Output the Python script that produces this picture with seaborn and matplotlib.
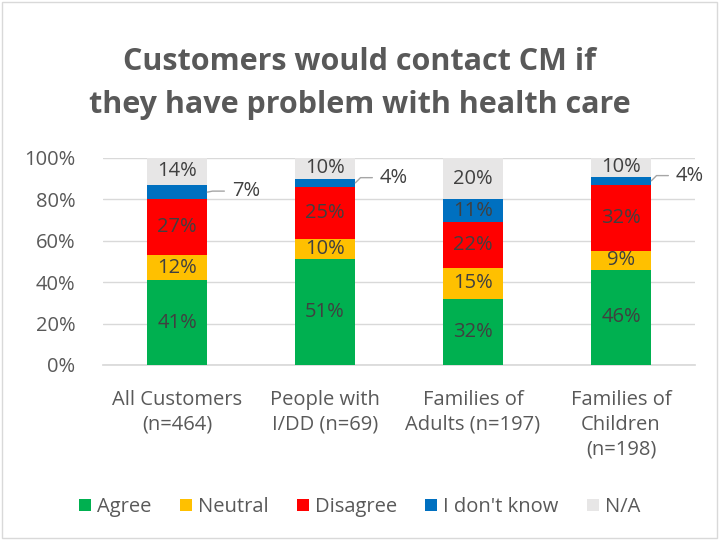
import matplotlib
matplotlib.use("Agg")
import matplotlib.pyplot as plt
import seaborn as sns
import pandas as pd
import numpy as np
from matplotlib.patches import Rectangle, Patch

categories = ["All Customers\n(n=464)", "People with\nI/DD (n=69)", "Families of\nAdults (n=197)", "Families of\nChildren\n(n=198)"]
series = ["Agree", "Neutral", "Disagree", "I don't know", "N/A"]
agree = [41, 51, 32, 46]
neutral = [12, 10, 15, 9]
disagree = [27, 25, 22, 32]
dont_know = [7, 4, 11, 4]
na = [14, 10, 20, 10]
colors = ["#00B050", "#FFC000", "#FF0000", "#0070C0", "#E7E6E6"]

values = [agree, neutral, disagree, dont_know, na]

sns.set_theme(style="white")
plt.rcParams['font.family'] = ['Open Sans', 'DejaVu Sans']

fig = plt.figure(figsize=(7.19, 5.40), dpi=100)
ax = fig.add_axes([103/719, 1-365/540, (695-103)/719, (365-158)/540])

cum = np.zeros(len(categories))
cums = []
for v in values:
    cum = cum + np.array(v)
    cums.append(cum.copy())

# draw from top down
for i in range(len(series) - 1, -1, -1):
    d = pd.DataFrame({"cat": categories, "val": np.minimum(cums[i], 100)})
    sns.barplot(data=d, x="cat", y="val", color=colors[i], width=0.405, ax=ax,
                saturation=1, zorder=3, linewidth=0)

ax.set_ylim(0, 100)
ax.set_xlim(-0.5, 3.5)
ax.set_yticks(range(0, 101, 20))
ax.set_yticklabels([f"{t}%" for t in range(0, 101, 20)])
ax.yaxis.grid(True, color="#D9D9D9", linewidth=1, zorder=0)
ax.set_axisbelow(True)
for s in ["top", "right", "left"]:
    ax.spines[s].set_visible(False)
ax.spines["bottom"].set_color("#D9D9D9")
ax.set_xlabel("")
ax.set_ylabel("")
ax.tick_params(axis="both", length=0, labelsize=14.5, colors="#595959")
ax.tick_params(axis="y", pad=20)
ax.tick_params(axis="x", pad=18)
for lbl in ax.get_xticklabels():
    lbl.set_linespacing(1.3)
    lbl.set_va("top")

label_color = "#404040"
fs = 14.5
for j in range(len(categories)):
    bottom = 0
    for i, v in enumerate(values):
        val = v[j]
        top = min(bottom + val, 100)
        mid = (bottom + top) / 2
        if i == 3 and val < 8:
            dy = 0.5 if j == 0 else 2.5
            ax.plot([j + 0.205, j + 0.24, j + 0.32], [mid, mid + dy, mid + dy],
                    color="#A6A6A6", linewidth=1, zorder=4, clip_on=False)
            ax.text(j + 0.37, mid + dy, f"{val}%", ha="left", va="center",
                    fontsize=fs, color=label_color, zorder=5)
        else:
            ax.text(j, mid, f"{val}%", ha="center", va="center", fontsize=fs,
                    color=label_color, zorder=5)
        bottom = top

fig.text(0.5, 1-62/540, "Customers would contact CM if", ha="center", va="center",
         fontsize=22, fontweight="bold", color="#595959")
fig.text(0.5, 1-105/540, "they have problem with health care", ha="center", va="center",
         fontsize=22, fontweight="bold", color="#595959")

handles = [Patch(facecolor=c, edgecolor="none") for c in colors]
fig.legend(handles, series, loc="center", bbox_to_anchor=(0.5, 1-507/540), ncol=5,
           frameon=False, fontsize=14.5, labelcolor="#595959", handlelength=0.6,
           handleheight=0.6, handletextpad=0.3, columnspacing=1.4)

fig.patches.append(Rectangle((0.003, 0.003), 0.994, 0.994, transform=fig.transFigure,
                             fill=False, edgecolor="#D9D9D9", linewidth=1))

fig.savefig("out.png", dpi=100)
